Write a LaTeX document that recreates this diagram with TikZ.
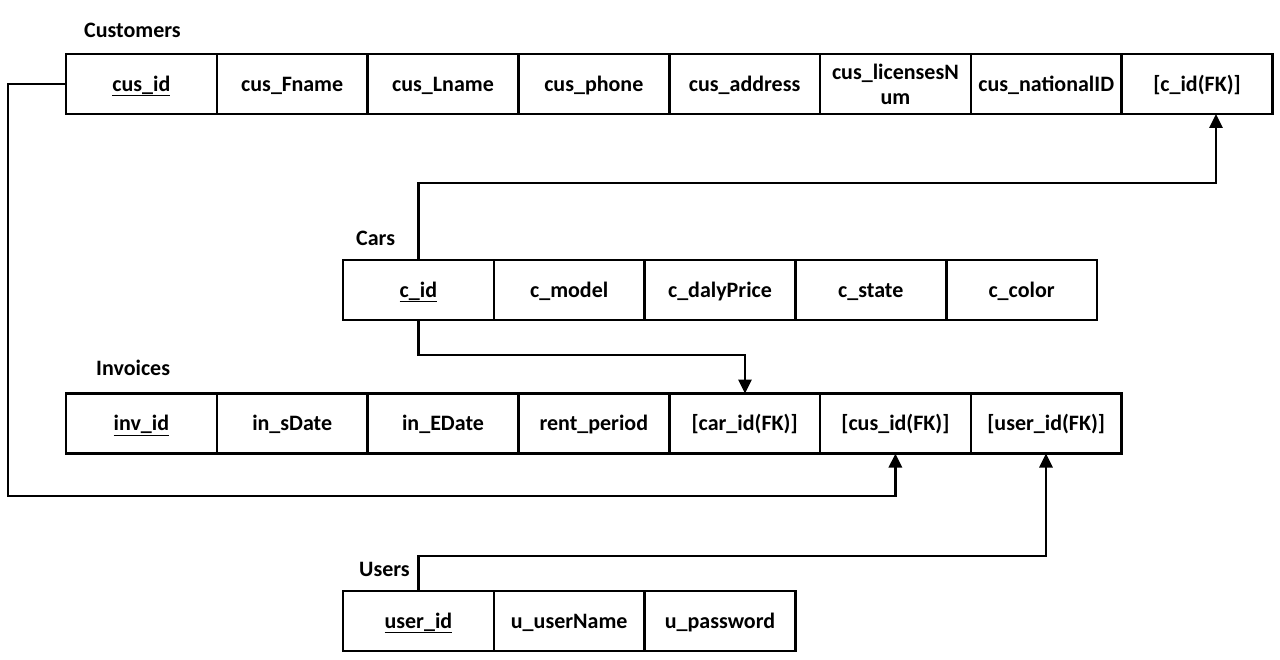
\documentclass[tikz,border=0pt]{standalone}
\usepackage{fontspec}
\setmainfont{Carlito}
\usetikzlibrary{arrows.meta}
\tikzset{
  cellb/.style={draw, line width=2.6pt, minimum width=150.8pt, minimum height=60pt,
    inner sep=0pt, outer sep=0pt, anchor=west, align=center,
    font=\fontsize{22}{25}\selectfont\bfseries},
  cell/.style={cellb, text height=18pt, text depth=3.8pt},
  tlabel/.style={anchor=west, inner sep=0pt, font=\fontsize{22}{25}\selectfont\bfseries},
  conn/.style={line width=2.8pt, line join=miter},
  arr/.style={conn, -{Triangle[width=13pt,length=14pt]}}
}
\begin{document}
\begin{tikzpicture}[x=1pt,y=-1pt]
\useasboundingbox (0,0) rectangle (1280,660);
% Customers
\node[tlabel] (lcus) at (84,30) {Customers};
\node[cell] (cus1) at (66,84) {\underline{cus\_id}};
\node[cell] (cus2) at (cus1.east) {cus\_Fname};
\node[cell] (cus3) at (cus2.east) {cus\_Lname};
\node[cell] (cus4) at (cus3.east) {cus\_phone};
\node[cell] (cus5) at (cus4.east) {cus\_address};
\node[cellb] (cus6) at (cus5.east) {cus\_licensesN\\um};
\node[cell] (cus7) at (cus6.east) {cus\_nationalID};
\node[cell] (cus8) at (cus7.east) {[c\_id(FK)]};
% Cars
\node[tlabel] (lcar) at (356,238) {Cars};
\node[cell] (car1) at (343,290) {\underline{c\_id}};
\node[cell] (car2) at (car1.east) {c\_model};
\node[cell] (car3) at (car2.east) {c\_dalyPrice};
\node[cell] (car4) at (car3.east) {c\_state};
\node[cell] (car5) at (car4.east) {c\_color};
% Invoices
\node[tlabel] (linv) at (96,368) {Invoices};
\node[cell] (inv1) at (66,423.5) {\underline{inv\_id}};
\node[cell] (inv2) at (inv1.east) {in\_sDate};
\node[cell] (inv3) at (inv2.east) {in\_EDate};
\node[cell] (inv4) at (inv3.east) {rent\_period};
\node[cell] (inv5) at (inv4.east) {[car\_id(FK)]};
\node[cell] (inv6) at (inv5.east) {[cus\_id(FK)]};
\node[cell] (inv7) at (inv6.east) {[user\_id(FK)]};
% Users
\node[tlabel] (lusr) at (359,569) {Users};
\node[cell] (usr1) at (343,621) {\underline{user\_id}};
\node[cell] (usr2) at (usr1.east) {u\_userName};
\node[cell] (usr3) at (usr2.east) {u\_password};
% connectors
\coordinate (k0) at (8,496);
\coordinate (k1) at (1216,183);
\coordinate (k2) at (745,355);
\coordinate (k3) at (1046,556);
\draw[arr] (cus1.west) -| (k0) -| (inv6.south);
\draw[arr] (car1.north) |- (k1) -- (k1 |- cus8.south);
\draw[arr] (car1.south) |- (k2) -- (k2 |- inv5.north);
\draw[arr] (usr1.north) |- (k3) -- (k3 |- inv7.south);
\end{tikzpicture}
\end{document}
